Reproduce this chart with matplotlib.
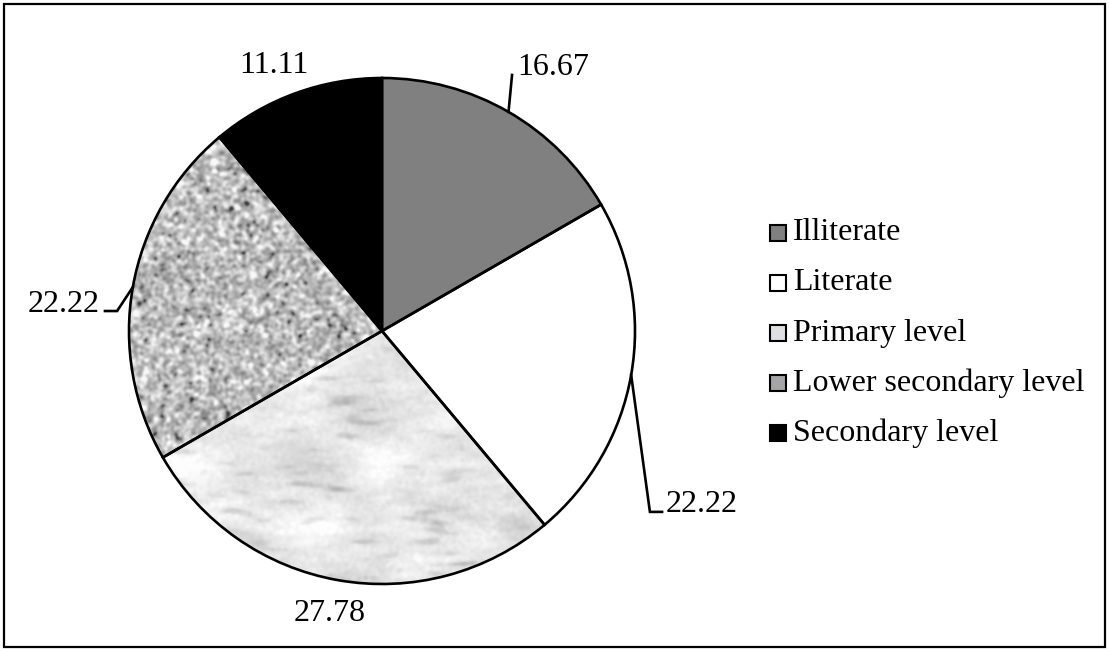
import numpy as np
import matplotlib
matplotlib.use("Agg")
import matplotlib.pyplot as plt
from matplotlib.patches import Rectangle, Wedge

# ---- data ----
categories = ["Illiterate", "Literate", "Primary level",
              "Lower secondary level", "Secondary level"]
shares = [16.67, 22.22, 27.78, 22.22, 11.11]
value_labels = ["16.67", "22.22", "27.78", "22.22", "11.11"]

# ---- style ----
base_colors = ["#808080", "#ffffff", "#e4e4e8", "#a9a9ab", "#000000"]
textures = [None, None, "marble", "granite", None]
# label anchor (x, y in pie-radius units), alignment and leader-line elbow
label_style = [
    dict(xy=(0.535, 1.012), ha="left", va="baseline", elbow=[(0.514, 1.012)]),
    dict(xy=(1.120, -0.715), ha="left", va="baseline",
         elbow=[(1.059, -0.715), (1.107, -0.715)]),
    dict(xy=(-0.206, -1.118), ha="center", va="center", elbow=None),
    dict(xy=(-1.116, 0.075), ha="right", va="baseline",
         elbow=[(-1.047, 0.079), (-1.095, 0.079)]),
    dict(xy=(-0.427, 1.051), ha="center", va="center", elbow=None),
]

plt.rcParams["font.family"] = ["Liberation Serif", "DejaVu Serif"]
FS = 23

W, H, DPI = 1109, 651, 100
fig = plt.figure(figsize=(W / DPI, H / DPI), dpi=DPI)
fig.patch.set_facecolor("white")

cx, cy, R = 382, H - 331, 253
ax = fig.add_axes([(cx - R) / W, (cy - R) / H, 2 * R / W, 2 * R / H])


def gaussian_blur(img, sx, sy=None):
    sy = sx if sy is None else sy
    ny, nx = img.shape
    fy = np.fft.fftfreq(ny)[:, None]
    fx = np.fft.fftfreq(nx)[None, :]
    kern = np.exp(-2 * (np.pi ** 2) * ((fx * sx) ** 2 + (fy * sy) ** 2))
    return np.real(np.fft.ifft2(np.fft.fft2(img) * kern))


def normalise(a):
    return (a - a.mean()) / (a.std() + 1e-9)


rng = np.random.default_rng(7)
N = 512


def make_texture(kind):
    if kind == "granite":
        g = normalise(gaussian_blur(rng.standard_normal((N, N)), 1.7))
        g2 = normalise(gaussian_blur(rng.standard_normal((N, N)), 5.0))
        v = 0.74 + 0.10 * g + 0.02 * g2
        dark = np.clip(-g - 1.8, 0, None)
        v -= 0.15 * dark
        return np.clip(v, 0.25, 0.97)
    # marble: soft diagonal clouds and faint streaks on a light ground
    big = normalise(gaussian_blur(rng.standard_normal((N, N)), 20, 12))
    mid = normalise(gaussian_blur(rng.standard_normal((N, N)), 9, 2.5))
    fine = normalise(gaussian_blur(rng.standard_normal((N, N)), 1.5))
    streak = np.clip(-mid - 1.0, 0, None)
    v = (0.905 + 0.03 * big + 0.015 * mid + 0.012 * fine - 0.05 * streak)
    return np.clip(v, 0.6, 0.99)


wedges, _ = ax.pie(shares, startangle=90, counterclock=False, radius=1,
                   colors=base_colors,
                   wedgeprops=dict(edgecolor="none", linewidth=0))
ax.set_xlim(-1, 1)
ax.set_ylim(-1, 1)
ax.set_aspect("auto")
ax.axis("off")

for w, kind in zip(wedges, textures):
    if kind is None:
        continue
    tex = make_texture(kind)
    im = ax.imshow(tex, cmap="gray", vmin=0, vmax=1, extent=(-1, 1, -1, 1),
                   interpolation="bilinear", zorder=1.5, aspect="auto")
    im.set_clip_path(w)

# outlines on top of textures
for w in wedges:
    ax.add_patch(Wedge((0, 0), 1, w.theta1, w.theta2, fill=False,
                       edgecolor="black", linewidth=1.9, zorder=3,
                       clip_on=False))

# value labels with leader lines
for w, txt, st in zip(wedges, value_labels, label_style):
    mid = np.deg2rad((w.theta1 + w.theta2) / 2)
    if st["elbow"]:
        pts = [(np.cos(mid), np.sin(mid))] + st["elbow"]
        xs, ys = zip(*pts)
        ax.plot(xs, ys, color="black", lw=1.9, clip_on=False, zorder=3,
                solid_joinstyle="miter")
    ax.text(st["xy"][0], st["xy"][1], txt, ha=st["ha"], va=st["va"],
            fontsize=FS, color="black")

# overlay in pixel units for the legend and the outer frame
ov = fig.add_axes([0, 0, 1, 1])
ov.set_xlim(0, W)
ov.set_ylim(H, 0)
ov.axis("off")
ov.patch.set_alpha(0)

legend_colors = ["#808080", "#ffffff", "#dedee3", "#a5a5a8", "#000000"]
for i, (name, col) in enumerate(zip(categories, legend_colors)):
    yc = 233 + 50 * i
    ov.add_patch(Rectangle((770, yc - 8), 16, 16, facecolor=col,
                           edgecolor="black", linewidth=1.5))
    ov.text(793, yc, name, ha="left", va="center", fontsize=FS,
            color="black")

ov.add_patch(Rectangle((4, 4), W - 8, H - 8, fill=False,
                       edgecolor="black", linewidth=1.6))

fig.savefig("out.png", dpi=DPI, facecolor="white")
